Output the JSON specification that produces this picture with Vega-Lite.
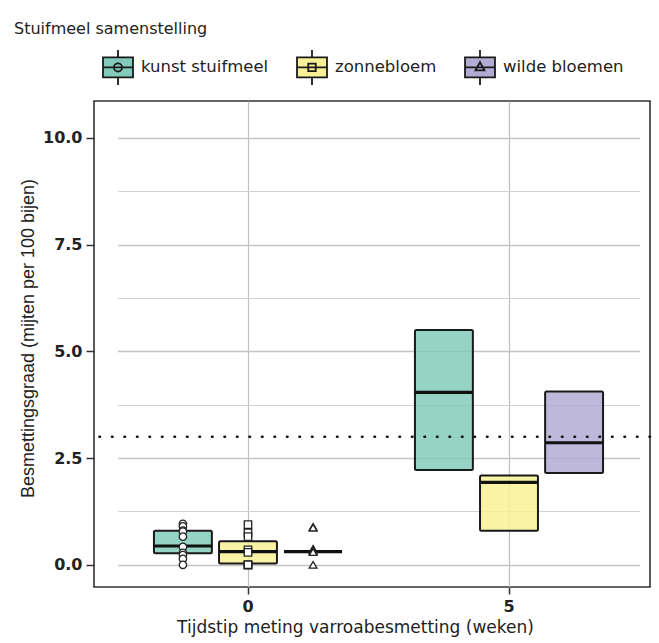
{
  "$schema": "https://vega.github.io/schema/vega-lite/v6.json",
  "width": 556,
  "height": 486,
  "autosize": {"type": "none"},
  "padding": {"left": 94, "top": 101, "right": 9, "bottom": 56},
  "background": "white",
  "config": {"view": {"stroke": "#333333", "strokeWidth": 1.6}},
  "title": {
    "text": "Stuifmeel samenstelling",
    "anchor": "start",
    "frame": "group",
    "dx": -80,
    "offset": 14,
    "font": "DejaVu Sans",
    "fontSize": 16,
    "fontWeight": "normal",
    "color": "#222222"
  },
  "datasets": {
    "boxes": [
      {"week": "0", "group": "kunst stuifmeel", "q1": 0.27, "median": 0.44, "q3": 0.80},
      {"week": "0", "group": "zonnebloem", "q1": 0.03, "median": 0.31, "q3": 0.55},
      {"week": "0", "group": "wilde bloemen", "q1": 0.31, "median": 0.31, "q3": 0.31},
      {"week": "5", "group": "kunst stuifmeel", "q1": 2.22, "median": 4.04, "q3": 5.50},
      {"week": "5", "group": "zonnebloem", "q1": 0.80, "median": 1.93, "q3": 2.09},
      {"week": "5", "group": "wilde bloemen", "q1": 2.15, "median": 2.86, "q3": 4.06}
    ],
    "points": [
      {"week": "0", "group": "kunst stuifmeel", "value": 0.96},
      {"week": "0", "group": "kunst stuifmeel", "value": 0.90},
      {"week": "0", "group": "kunst stuifmeel", "value": 0.80},
      {"week": "0", "group": "kunst stuifmeel", "value": 0.78},
      {"week": "0", "group": "kunst stuifmeel", "value": 0.66},
      {"week": "0", "group": "kunst stuifmeel", "value": 0.42},
      {"week": "0", "group": "kunst stuifmeel", "value": 0.28},
      {"week": "0", "group": "kunst stuifmeel", "value": 0.23},
      {"week": "0", "group": "kunst stuifmeel", "value": 0.14},
      {"week": "0", "group": "kunst stuifmeel", "value": 0.0},
      {"week": "0", "group": "zonnebloem", "value": 0.94},
      {"week": "0", "group": "zonnebloem", "value": 0.75},
      {"week": "0", "group": "zonnebloem", "value": 0.66},
      {"week": "0", "group": "zonnebloem", "value": 0.35},
      {"week": "0", "group": "zonnebloem", "value": 0.29},
      {"week": "0", "group": "zonnebloem", "value": 0.0},
      {"week": "0", "group": "zonnebloem", "value": 0.0},
      {"week": "0", "group": "zonnebloem", "value": 0.0},
      {"week": "0", "group": "wilde bloemen", "value": 0.89},
      {"week": "0", "group": "wilde bloemen", "value": 0.87},
      {"week": "0", "group": "wilde bloemen", "value": 0.37},
      {"week": "0", "group": "wilde bloemen", "value": 0.35},
      {"week": "0", "group": "wilde bloemen", "value": 0.33},
      {"week": "0", "group": "wilde bloemen", "value": 0.30},
      {"week": "0", "group": "wilde bloemen", "value": 0.0}
    ],
    "ref": [{"level": 3}]
  },
  "layer": [
    {
      "data": {"name": "boxes"},
      "mark": {"type": "bar", "stroke": "#1a1a1a", "strokeWidth": 2, "fillOpacity": 0.85, "cornerRadius": 1.5},
      "encoding": {
        "x": {
          "field": "week", "type": "nominal",
          "scale": {"domain": ["0", "5"], "range": [23.5, 545.5], "paddingInner": 0, "paddingOuter": 0},
          "axis": {
            "title": "Tijdstip meting varroabesmetting (weken)",
            "labelAngle": 0, "labelFont": "DejaVu Sans", "labelFontWeight": "bold", "labelFontSize": 16,
            "labelColor": "#222222", "labelPadding": 4, "tickSize": 7, "tickColor": "#333333", "tickWidth": 1.5,
            "grid": true, "gridColor": "#c0c0c0", "gridWidth": 1.2, "bandPosition": 0.5, "domain": false,
            "titleFont": "DejaVu Sans", "titleFontSize": 17, "titleFontWeight": "normal", "titleColor": "#222222", "titlePadding": 5,
            "titleX": 261, "titleAlign": "center"
          }
        },
        "xOffset": {
          "field": "group", "type": "nominal",
          "scale": {"domain": ["kunst stuifmeel", "zonnebloem", "wilde bloemen"], "paddingInner": 0.11, "paddingOuter": 0.56}
        },
        "y": {
          "field": "q1", "type": "quantitative",
          "title": "Besmettingsgraad (mijten per 100 bijen)",
          "scale": {"domain": [-0.52, 10.866], "nice": false, "zero": false},
          "axis": {
            "values": [0, 1.25, 2.5, 3.75, 5, 6.25, 7.5, 8.75, 10],
            "format": ".1f",
            "labelExpr": "datum.value % 2.5 === 0 ? datum.label : ''",
            "labelFont": "DejaVu Sans", "labelFontWeight": "bold", "labelFontSize": 16, "labelColor": "#222222",
            "labelPadding": 4, "tickSize": 8, "tickColor": "#333333", "tickWidth": 1.5,
            "tickOpacity": {"condition": {"test": "datum.value % 2.5 !== 0", "value": 0}, "value": 1},
            "gridColor": {"condition": {"test": "datum.value % 2.5 !== 0", "value": "#d2d2d2"}, "value": "#c4c4c4"},
            "gridWidth": {"condition": {"test": "datum.value % 2.5 !== 0", "value": 1}, "value": 1.4},
            "domain": false,
            "titleFont": "Liberation Sans", "titleFontSize": 18, "titleFontWeight": "normal", "titleColor": "#222222", "titlePadding": 5,
            "titleY": 237
          }
        },
        "y2": {"field": "q3"},
        "fill": {
          "field": "group", "type": "nominal",
          "scale": {"domain": ["kunst stuifmeel", "zonnebloem", "wilde bloemen"], "range": ["#82cbbb", "#f8f195", "#b3abd3"]},
          "legend": {
            "title": null, "orient": "none", "direction": "horizontal", "legendX": 8, "legendY": -50,
            "symbolSize": 900, "symbolStrokeColor": "#1a1a1a", "symbolStrokeWidth": 1.8,
            "labelFont": "DejaVu Sans", "labelFontSize": 16.5, "labelColor": "#222222", "labelOffset": 7, "columnPadding": 24,
            "encode": {
              "symbols": {
                "update": {
                  "shape": {"signal": "datum.value === 'kunst stuifmeel' ? 'M-1,-0.667H1V0.667H-1Z M0,-0.667V-1.167 M0,0.667V1.167 M-1,0H1 M0.27,0A0.27,0.27,0,1,1,-0.27,0A0.27,0.27,0,1,1,0.27,0Z' : datum.value === 'zonnebloem' ? 'M-1,-0.667H1V0.667H-1Z M0,-0.667V-1.167 M0,0.667V1.167 M-1,0H1 M-0.25,-0.25H0.25V0.25H-0.25Z' : 'M-1,-0.667H1V0.667H-1Z M0,-0.667V-1.167 M0,0.667V1.167 M-1,0H1 M0,-0.35L0.3,0.2H-0.3Z'"},
                  "stroke": {"value": "#1a1a1a"},
                  "strokeWidth": {"value": 1.8},
                  "size": {"value": 900}
                }
              }
            }
          }
        }
      }
    },
    {
      "data": {"name": "boxes"},
      "mark": {"type": "bar", "fill": "transparent", "stroke": "#111111", "strokeWidth": 3.2},
      "encoding": {
        "x": {"field": "week", "type": "nominal"},
        "xOffset": {"field": "group", "type": "nominal"},
        "y": {"field": "median", "type": "quantitative", "title": "Besmettingsgraad (mijten per 100 bijen)"},
        "y2": {"field": "median"}
      }
    },
    {
      "data": {"name": "points"},
      "transform": [{"filter": "datum.group === 'kunst stuifmeel'"}],
      "mark": {"type": "point", "shape": "circle", "filled": false, "fill": "white", "fillOpacity": 1, "stroke": "#222222", "strokeWidth": 1.3, "size": 55, "opacity": 1},
      "encoding": {
        "x": {"field": "week", "type": "nominal"},
        "xOffset": {"field": "group", "type": "nominal"},
        "y": {"field": "value", "type": "quantitative", "title": "Besmettingsgraad (mijten per 100 bijen)"}
      }
    },
    {
      "data": {"name": "points"},
      "transform": [{"filter": "datum.group === 'zonnebloem'"}],
      "mark": {"type": "point", "shape": "square", "filled": false, "fill": "white", "fillOpacity": 1, "stroke": "#222222", "strokeWidth": 1.3, "size": 55, "opacity": 1},
      "encoding": {
        "x": {"field": "week", "type": "nominal"},
        "xOffset": {"field": "group", "type": "nominal"},
        "y": {"field": "value", "type": "quantitative", "title": "Besmettingsgraad (mijten per 100 bijen)"}
      }
    },
    {
      "data": {"name": "points"},
      "transform": [{"filter": "datum.group === 'wilde bloemen'"}],
      "mark": {"type": "point", "shape": "triangle-up", "filled": false, "fill": "white", "fillOpacity": 1, "stroke": "#222222", "strokeWidth": 1.3, "size": 60, "opacity": 1},
      "encoding": {
        "x": {"field": "week", "type": "nominal"},
        "xOffset": {"field": "group", "type": "nominal"},
        "y": {"field": "value", "type": "quantitative", "title": "Besmettingsgraad (mijten per 100 bijen)"}
      }
    },
    {
      "data": {"name": "ref"},
      "mark": {"type": "rule", "color": "#111111", "strokeWidth": 2.6, "strokeDash": [0.5, 12], "strokeCap": "round"},
      "encoding": {
        "y": {"field": "level", "type": "quantitative", "title": "Besmettingsgraad (mijten per 100 bijen)"}
      }
    }
  ]
}
